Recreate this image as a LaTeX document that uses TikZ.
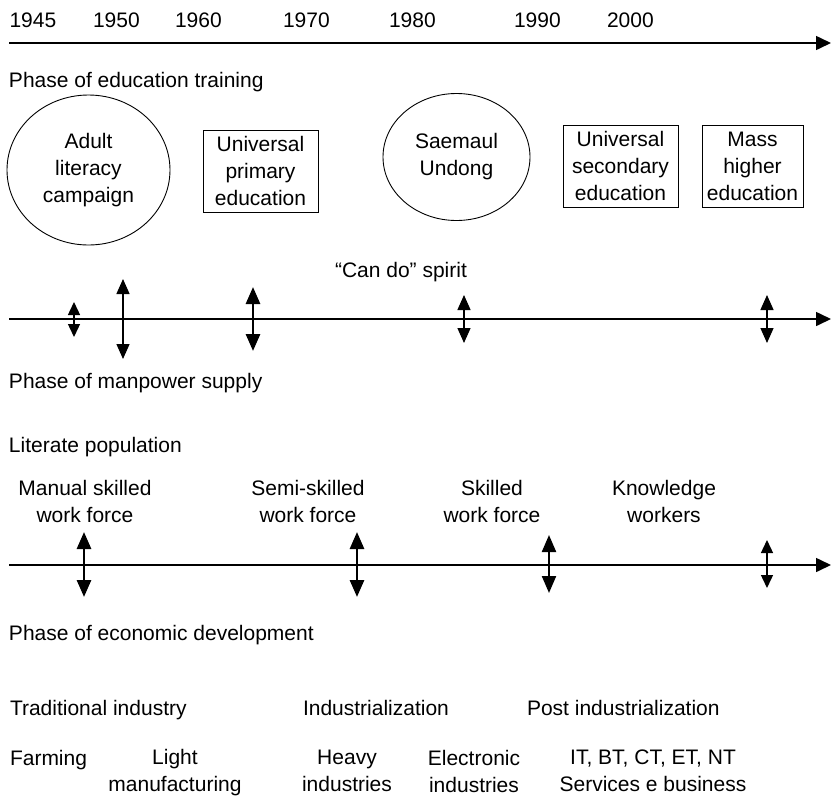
\documentclass[tikz,border=0pt]{standalone}
\usepackage{fontspec}
\setmainfont{Liberation Sans}
\usetikzlibrary{arrows.meta,shapes.geometric}
\begin{document}
\begin{tikzpicture}[x=1pt,y=-1pt,
  every node/.style={font=\fontsize{21}{27}\selectfont, inner sep=0pt, outer sep=0pt},
  label/.style={align=center},
  oval/.style={draw, ellipse, line width=0.9pt, align=center},
  panel/.style={draw, rectangle, line width=0.9pt, align=center},
  axis/.style={line width=1.6pt, -{Triangle[length=15pt,width=14pt]}},
  thin tick/.style={line width=1.4pt, {Triangle[length=15pt,width=13pt]}-{Triangle[length=15pt,width=13pt]}},
  thick tick/.style={line width=2.8pt, {Triangle[length=17pt,width=14pt]}-{Triangle[length=17pt,width=14pt]}},
  small tick/.style={line width=1.4pt, {Triangle[length=13pt,width=12pt]}-{Triangle[length=13pt,width=12pt]}}
]
\useasboundingbox (0,0) rectangle (831,796);

% ---- time line ----
\node[anchor=base west] (y1945) at (9.5,27) {1945};
\node[anchor=base west] (y1950) at (93,27) {1950};
\node[anchor=base west] (y1960) at (175,27) {1960};
\node[anchor=base west] (y1970) at (283,27) {1970};
\node[anchor=base west] (y1980) at (389,27) {1980};
\node[anchor=base west] (y1990) at (514,27) {1990};
\node[anchor=base west] (y2000) at (607,27) {2000};
\coordinate (t0) at (9,43);
\coordinate (t1) at (831,43);
\draw[axis] (t0) -- (t1);

% ---- education and training ----
\node[anchor=base west] (edu) at (9,87) {Phase of education training};
\node[oval, minimum width=163, minimum height=150] (adult) at (88.5,170) {Adult\\literacy\\campaign};
\node[panel, minimum width=115, minimum height=82] (primary) at (260.5,171) {Universal\\primary\\education};
\node[oval, minimum width=147, minimum height=127] (saemaul) at (456.5,157) {Saemaul\\Undong};
\node[panel, minimum width=115, minimum height=82] (secondary) at (620.5,166) {Universal\\secondary\\education};
\node[panel, minimum width=101, minimum height=82] (higher) at (752.5,166) {Mass\\higher\\education};
\node[anchor=base] (spirit) at (401,277) {“Can do” spirit};

% ---- manpower supply ----
\coordinate (m0) at (9,319);
\coordinate (m1) at (831,319);
\draw[axis] (m0) -- (m1);
\coordinate (a1t) at (74,302);  \coordinate (a1b) at (74,337);
\coordinate (a2t) at (123,279); \coordinate (a2b) at (123,359);
\coordinate (a3t) at (253,287); \coordinate (a3b) at (253,351);
\coordinate (a4t) at (464,295); \coordinate (a4b) at (464,343);
\coordinate (a5t) at (767,295); \coordinate (a5b) at (767,343);
\draw[small tick] (a1t) -- (a1b);
\draw[thin tick] (a2t) -- (a2b);
\draw[thick tick] (a3t) -- (a3b);
\draw[thin tick] (a4t) -- (a4b);
\draw[thin tick] (a5t) -- (a5b);
\node[anchor=base west] (manpower) at (9,388) {Phase of manpower supply};

% ---- work force ----
\node[anchor=base west] (literate) at (9,452) {Literate population};
\node[label] (manual) at (85,501.5) {Manual skilled\\work force};
\node[label] (semi) at (308,501.5) {Semi-skilled\\work force};
\node[label] (skilled) at (492,501.5) {Skilled\\work force};
\node[label] (knowledge) at (664,501.5) {Knowledge\\workers};
\coordinate (w0) at (9,565);
\coordinate (w1) at (831,565);
\draw[axis] (w0) -- (w1);
\coordinate (b1t) at (84,532);  \coordinate (b1b) at (84,597);
\coordinate (b2t) at (357,532); \coordinate (b2b) at (357,597);
\coordinate (b3t) at (549,535); \coordinate (b3b) at (549,593);
\coordinate (b4t) at (767,540); \coordinate (b4b) at (767,588);
\draw[thick tick] (b1t) -- (b1b);
\draw[thick tick] (b2t) -- (b2b);
\draw[thick tick, line width=2.2pt] (b3t) -- (b3b);
\draw[small tick] (b4t) -- (b4b);

% ---- economic development ----
\node[anchor=base west] (economic) at (9,640) {Phase of economic development};
\node[anchor=base west] (traditional) at (10,715) {Traditional industry};
\node[anchor=base west] (industrial) at (303,715) {Industrialization};
\node[anchor=base west] (post) at (527,715) {Post industrialization};
\node[anchor=base west] (farming) at (10,765) {Farming};
\node[label] (light) at (175,773) {Light\\manufacturing};
\node[label] (heavy) at (347,771) {Heavy\\industries};
\node[label] (electronic) at (474,771) {Electronic\\industries};
\node[label] (it) at (653,771) {IT, BT, CT, ET, NT\\Services e business};
\end{tikzpicture}
\end{document}
